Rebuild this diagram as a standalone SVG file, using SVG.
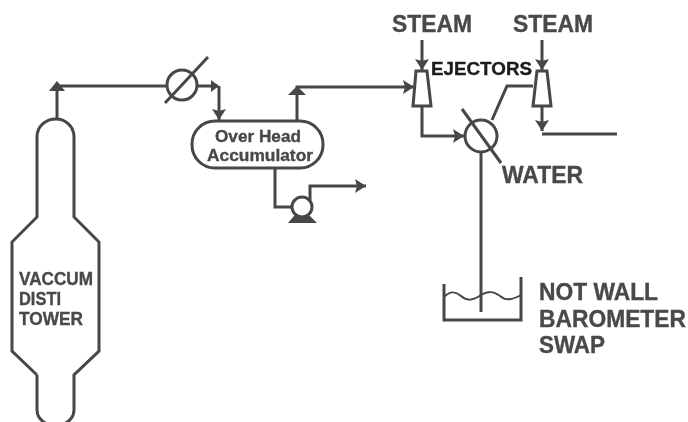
<svg xmlns="http://www.w3.org/2000/svg" width="688" height="422" viewBox="0 0 688 422">
<defs>
<style>
.l{fill:none;stroke:#464646;stroke-width:3;stroke-linejoin:miter}
.s{fill:#fff;stroke:#464646;stroke-width:3}
.a{fill:#464646;stroke:none}
text{font-family:"Liberation Sans",Arial,sans-serif;font-weight:bold;fill:#484848;stroke:#484848;stroke-width:.35}
.big{font-size:23px}
.lab{font-size:23px}
.mid{font-size:17px}
.sm{font-size:18px}
</style>
<filter id="soft" filterUnits="userSpaceOnUse" x="0" y="0" width="688" height="422"><feGaussianBlur stdDeviation="0.45"/></filter>
<marker id="ah" markerWidth="16" markerHeight="14" refX="13" refY="7" orient="auto" markerUnits="userSpaceOnUse">
<path d="M2 0L13 7L2 14L4 7Z" fill="#464646"/>
</marker>
</defs>
<rect width="688" height="422" fill="#fff"/>
<g filter="url(#soft)">
<g id="connectors">
<path class="l" d="M57 119V86H218"/>
<path class="a" d="M57 81L65 91H49Z"/>
<path class="a" d="M219 86L211 80V92Z"/>
<path class="l" d="M219 86V120" marker-end="url(#ah)"/>
<path class="l" d="M297 121V87H414" marker-end="url(#ah)"/>
<path class="a" d="M297 86L306 95H288Z"/>
<path class="l" d="M275 168V207H292"/>
<path class="l" d="M310 200V186H366" marker-end="url(#ah)"/>
<path class="l" d="M422 40V70" marker-end="url(#ah)"/>
<path class="l" d="M422 106V136H464" marker-end="url(#ah)"/>
<path class="l" d="M492 120L507 86H533"/>
<path class="l" d="M542 40V70" marker-end="url(#ah)"/>
<path class="l" d="M542 106V131" marker-end="url(#ah)"/>
<path class="l" d="M542 134H617"/>
<path class="l" d="M481 152V312"/>
</g>
<g id="tower">
<path class="l" d="M37 137C37 126 46 119 56 119C65 119 74 126 74 137V217L99 242V351L74 375V410C74 418 68 422 64 424M37 375V410C37 418 43 422 47 424M37 375L12 351V242L37 217V137"/>
<text class="sm" x="19" y="285" textLength="74" lengthAdjust="spacingAndGlyphs">VACCUM</text>
<text class="sm" x="19" y="305" textLength="42" lengthAdjust="spacingAndGlyphs">DISTI</text>
<text class="sm" x="19" y="325" textLength="64" lengthAdjust="spacingAndGlyphs">TOWER</text>
</g>
<g id="condenser">
<circle class="s" cx="182" cy="85" r="15"/>
<path class="l" d="M165 103L208 57"/>
</g>
<g id="accumulator">
<rect class="s" x="192" y="121" width="131" height="47" rx="23" ry="23"/>
<text class="mid" x="258" y="142" text-anchor="middle" textLength="86" lengthAdjust="spacingAndGlyphs">Over Head</text>
<text class="mid" x="260" y="161" text-anchor="middle" textLength="106" lengthAdjust="spacingAndGlyphs">Accumulator</text>
</g>
<g id="pump">
<circle class="s" cx="302" cy="207" r="10"/>
<path class="a" d="M294 216L310 216L317 223H288Z"/>
</g>
<g id="ejector1">
<path class="s" d="M416 71H427L431 106H413Z"/>
<text class="big" x="392" y="32" textLength="80" lengthAdjust="spacingAndGlyphs">STEAM</text>
</g>
<g id="ejector2">
<path class="s" d="M537 71H547L551 106H533Z"/>
<text class="big" x="513" y="32" textLength="80" lengthAdjust="spacingAndGlyphs">STEAM</text>
</g>
<text x="431" y="75" font-size="18" style="fill:#1e1e1e;stroke:#1e1e1e" textLength="101" lengthAdjust="spacingAndGlyphs">EJECTORS</text>
<g id="main-condenser">
<circle class="s" cx="481" cy="136" r="16"/>
<path class="l" d="M462 109L501 163"/>
<text class="lab" x="502" y="183" textLength="81" lengthAdjust="spacingAndGlyphs">WATER</text>
</g>
<g id="sump">
<path class="l" d="M444 284V320H521V277"/>
<path class="l" style="stroke-width:2" d="M444 297C450 291 455 291 461 296C467 301 472 301 481 295C488 291 493 291 500 296C506 301 512 300 521 295"/>
<text class="lab" x="539" y="300" textLength="119" lengthAdjust="spacingAndGlyphs">NOT WALL</text>
<text class="lab" x="539" y="327" textLength="147" lengthAdjust="spacingAndGlyphs">BAROMETER</text>
<text class="lab" x="539" y="353" textLength="66" lengthAdjust="spacingAndGlyphs">SWAP</text>
</g>
</g>
</svg>
